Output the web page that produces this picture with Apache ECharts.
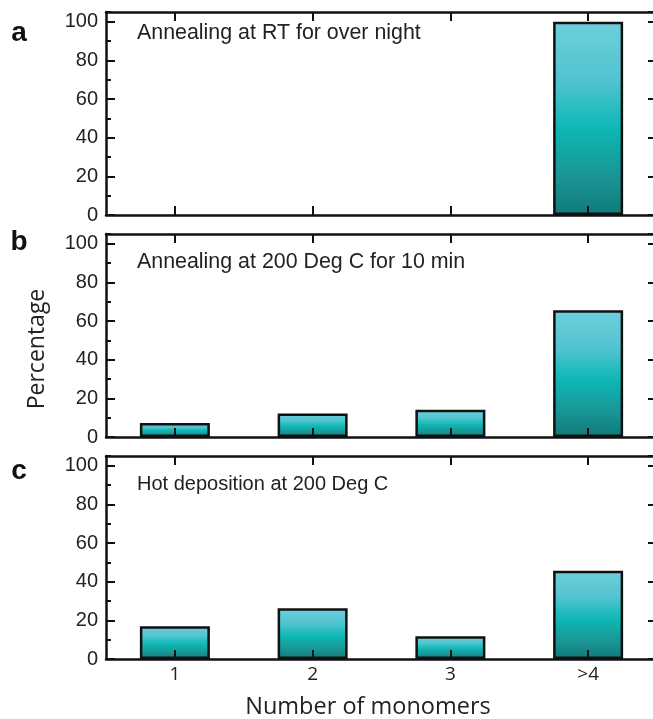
<!DOCTYPE html>
<html>
<head>
<meta charset="utf-8">
<script src="https://cdn.jsdelivr.net/npm/echarts@6/dist/echarts.min.js"></script>
<style>
  html, body { margin: 0; padding: 0; background: #fff; overflow: hidden; }
  #chart { width: 670px; height: 719px; }
</style>
</head>
<body>
<div id="chart"></div>
<script>
// data
const categories = ['1', '2', '3', '>4'];
const rtOvernight = [0, 0, 0, 100];
const anneal200 = [7.3, 12.2, 14.1, 65.5];
const hotDeposition = [17.0, 26.2, 11.8, 45.6];
const panelTitles = ['Annealing at RT for over night', 'Annealing at 200 Deg C for 10 min', 'Hot deposition at 200 Deg C'];
const panelLetters = ['a', 'b', 'c'];
const yMax = 105;
const yStep = 20;

const panels = [rtOvernight, anneal200, hotDeposition];
const gridTops = [12, 234, 456];
const titleY = [33, 262, 484.5];
const titleSize = [21.4, 21.4, 20];
const letterY = [33, 242, 471];

const barColor = new echarts.graphic.LinearGradient(0, 0, 0, 1, [
  { offset: 0, color: '#6dcfdd' },
  { offset: 0.3, color: '#52c4cf' },
  { offset: 0.55, color: '#0db8b5' },
  { offset: 0.8, color: '#1a9595' },
  { offset: 1, color: '#107a7a' }
]);

const black = '#111';
let grids = [], xAxes = [], yAxes = [], series = [], graphics = [];

panels.forEach((vals, i) => {
  grids.push({ left: 106, width: 551, top: gridTops[i], height: 203 });
  // bottom + top category axes
  xAxes.push({
    type: 'category', gridIndex: i, data: categories, position: 'bottom', z: 5,
    axisLine: { onZero: false, lineStyle: { color: black, width: 2.5 } },
    axisTick: { show: true, interval: 0, inside: true, alignWithLabel: true, length: 9, lineStyle: { color: black, width: 2 } },
    axisLabel: { show: i == 2, interval: 0, color: '#222', fontSize: 19, fontFamily: 'Open Sans', margin: 6 }
  });
  xAxes.push({
    type: 'category', gridIndex: i, data: categories, position: 'top', z: 5,
    axisLine: { onZero: false, lineStyle: { color: black, width: 2.5 } },
    axisTick: { show: true, interval: 0, inside: true, alignWithLabel: true, length: 9, lineStyle: { color: black, width: 2 } },
    axisLabel: { show: false }
  });
  // left major, left minor, right (line falls just outside the picture)
  yAxes.push({
    type: 'value', gridIndex: i, min: 0, max: yMax, interval: yStep, position: 'left', z: 5,
    splitLine: { show: false },
    axisLine: { show: true, onZero: false, lineStyle: { color: black, width: 2.5 } },
    axisTick: { show: true, inside: true, length: 9, lineStyle: { color: black, width: 2 } },
    axisLabel: { color: '#222', fontSize: 20, fontFamily: 'Liberation Sans', margin: 8, showMaxLabel: false,
      formatter: v => (v % yStep == 0 ? v : '') }
  });
  yAxes.push({
    type: 'value', gridIndex: i, min: 0, max: yMax, interval: yStep / 2, position: 'left', z: 5,
    splitLine: { show: false },
    axisLine: { show: false, onZero: false },
    axisTick: { show: true, inside: true, length: 5, lineStyle: { color: black, width: 2 } },
    axisLabel: { show: false }
  });
  yAxes.push({
    type: 'value', gridIndex: i, min: 0, max: yMax, interval: yStep, position: 'right', z: 5,
    splitLine: { show: false },
    axisLine: { show: false, onZero: false },
    axisTick: { show: true, inside: true, length: 9, lineStyle: { color: black, width: 2 } },
    axisLabel: { show: false }
  });
  series.push({
    type: 'bar', xAxisIndex: i * 2, yAxisIndex: i * 3, barWidth: 70,
    data: vals.map(v => (v === 0 ? '-' : v)),
    itemStyle: { color: barColor, borderColor: black, borderWidth: 2.5 }
  });
  graphics.push({
    type: 'text', x: 137, y: titleY[i],
    style: { text: panelTitles[i], font: titleSize[i] + 'px "Liberation Sans"', fill: '#222', verticalAlign: 'middle' }
  });
  graphics.push({
    type: 'text', x: 19, y: letterY[i],
    style: { text: panelLetters[i], font: 'bold 28px "Liberation Sans"', fill: '#111', align: 'center', verticalAlign: 'middle' }
  });
});

graphics.push({
  type: 'text', x: 37, y: 349, rotation: Math.PI / 2,
  style: { text: 'Percentage', font: '23px "Open Sans"', fill: '#222', align: 'center', verticalAlign: 'middle' }
});
graphics.push({
  type: 'text', x: 368, y: 707,
  style: { text: 'Number of monomers', font: '23.5px "Open Sans"', fill: '#222', align: 'center', verticalAlign: 'middle' }
});

const chart = echarts.init(document.getElementById('chart'), null, { renderer: 'canvas' });
chart.setOption({
  animation: false,
  backgroundColor: '#fff',
  grid: grids,
  xAxis: xAxes,
  yAxis: yAxes,
  series: series,
  graphic: graphics
});
</script>
</body>
</html>
